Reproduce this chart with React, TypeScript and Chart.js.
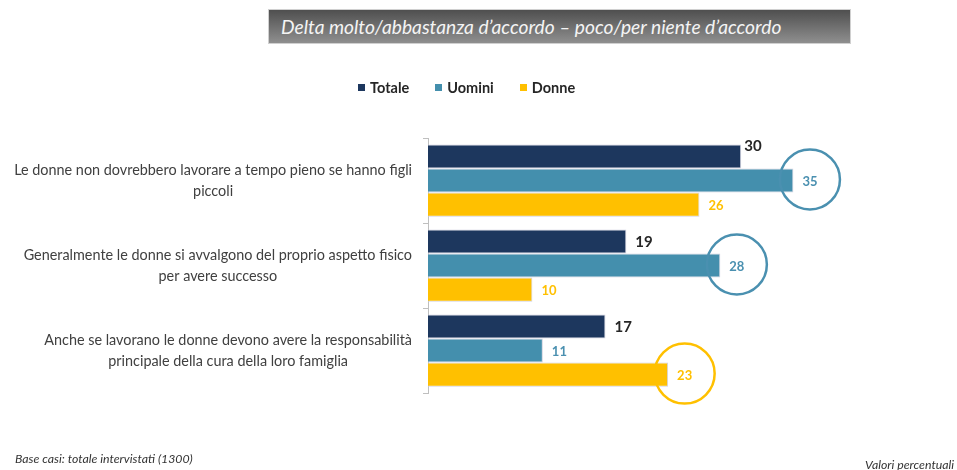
import React, { useEffect, useRef } from "react";
import { Chart, registerables } from "chart.js";

Chart.register(...registerables);

const TITLE = "Delta molto/abbastanza d’accordo – poco/per niente d’accordo";
const categories: string[][] = [
  ["Le donne non dovrebbero lavorare a tempo pieno se hanno figli", "piccoli"],
  ["Generalmente le donne si avvalgono del proprio aspetto fisico", "per avere successo"],
  ["Anche se lavorano le donne devono avere la responsabilità", "principale della cura della loro famiglia"],
];
const seriesNames = ["Totale", "Uomini", "Donne"];
const totale = [30, 19, 17];
const uomini = [35, 28, 11];
const donne = [26, 10, 23];
const circledUomini = [true, true, false];
const circledDonne = [false, false, true];
const circledTotale = [false, false, false];
const BASE_NOTE = "Base casi: totale intervistati (1300)";
const UNIT_NOTE = "Valori percentuali";

const barColors = ["#1d375e", "#448fad", "#ffc000"];
const labelColors = ["#262626", "#4a90b0", "#ffc000"];
const FONT = "Lato, 'Open Sans', sans-serif";

const valuePlugin = {
  id: "valueLabels",
  afterDatasetsDraw(chart: any) {
    const ctx = chart.ctx;
    const circled = [circledTotale, circledUomini, circledDonne];
    chart.data.datasets.forEach((ds: any, di: number) => {
      const meta = chart.getDatasetMeta(di);
      meta.data.forEach((el: any, i: number) => {
        const txt = String(ds.data[i]);
        ctx.save();
        ctx.font = di === 0 ? `bold 15px ${FONT}` : `bold 13px ${FONT}`;
        ctx.fillStyle = labelColors[di];
        ctx.textAlign = "left";
        ctx.textBaseline = "middle";
        let x = el.x + 9;
        let y = el.y + 1;
        // totale label lifted when circle of next series sits beside it
        if (di === 0 && circled[1][i] && chart.getDatasetMeta(1).data[i].x - el.x < 60) {
          x = el.x + 3;
          y = el.y - 10;
        }
        ctx.fillText(txt, x, y);
        if (circled[di][i]) {
          const w = ctx.measureText(txt).width;
          ctx.beginPath();
          ctx.strokeStyle = barColors[di] === "#ffc000" ? "#ffc000" : "#4a90b0";
          ctx.lineWidth = 2.5;
          ctx.arc(x + w / 2, el.y - 1, 30, 0, Math.PI * 2);
          ctx.stroke();
        }
        ctx.restore();
      });
    });
  },
};

const yLabelPlugin = {
  id: "yLabels",
  afterDraw(chart: any) {
    const ctx = chart.ctx;
    const ys = chart.scales.y;
    ctx.save();
    ctx.font = `14.4px ${FONT}`;
    ctx.fillStyle = "#404040";
    ctx.textAlign = "center";
    ctx.textBaseline = "middle";
    const right = 412;
    const lh = 21;
    categories.forEach((lines, i) => {
      const cy = ys.getPixelForValue(i);
      const maxW = Math.max(...lines.map((l) => ctx.measureText(l).width));
      const cx = right - maxW / 2;
      lines.forEach((l, li) => {
        ctx.fillText(l, cx, cy + (li - (lines.length - 1) / 2) * lh);
      });
    });
    ctx.restore();
  },
};

export default function App() {
  const ref = useRef<HTMLCanvasElement>(null);
  useEffect(() => {
    if (!ref.current) return;
    const chart = new Chart(ref.current, {
      type: "bar",
      data: {
        labels: categories.map((c) => c.join(" ")),
        datasets: [totale, uomini, donne].map((d, i) => ({
          label: seriesNames[i],
          data: d,
          backgroundColor: barColors[i],
          borderColor: "rgba(205,205,220,0.9)",
          borderWidth: 1,
          categoryPercentage: 0.85,
          barPercentage: 1.0,
        })),
      },
      options: {
        indexAxis: "y",
        animation: false,
        responsive: false,
        devicePixelRatio: 1,
        layout: { padding: { left: 420, top: 138, bottom: 77, right: 7 } },
        plugins: { legend: { display: false }, tooltip: { enabled: false }, title: { display: false } },
        scales: {
          x: { display: false, min: 0, max: 50 },
          y: {
            offset: true,
            afterFit: (s: any) => {
              s.width = 8;
            },
            grid: { drawOnChartArea: false, drawTicks: true, tickLength: 5, color: "#bfbfbf", offset: true },
            border: { display: true, color: "#bfbfbf", width: 1 },
            ticks: { display: false },
          },
        },
      },
      plugins: [valuePlugin, yLabelPlugin],
    } as any);
    return () => chart.destroy();
  }, []);

  return (
    <div style={{ position: "fixed", left: 0, top: 0, width: 957, height: 470, background: "#fff", overflow: "hidden", fontFamily: FONT }}>
      <canvas ref={ref} width={957} height={470} style={{ position: "absolute", left: 0, top: 0 }} />
      <div
        style={{
          position: "absolute",
          left: 268,
          top: 9,
          width: 583,
          height: 35,
          background: "linear-gradient(#4f4f4f, #8f8f8f)",
          border: "1px solid #d0d0d0",
          boxSizing: "border-box",
          color: "#f4f4f4",
          fontStyle: "italic",
          fontSize: 19.2,
          lineHeight: "33px",
          paddingLeft: 12,
          whiteSpace: "nowrap",
        }}
      >
        {TITLE}
      </div>
      <div style={{ position: "absolute", left: 358, top: 79, display: "flex", alignItems: "center", fontWeight: "bold", fontSize: 14.5, color: "#262626" }}>
        {seriesNames.map((n, i) => (
          <div key={n} style={{ display: "flex", alignItems: "center", marginRight: 26 }}>
            <span style={{ display: "inline-block", width: 7, height: 7, background: barColors[i], marginRight: 5 }} />
            <span>{n}</span>
          </div>
        ))}
      </div>
      <div style={{ position: "absolute", left: 15, top: 451, fontStyle: "italic", fontSize: 12.3, color: "#333", whiteSpace: "nowrap" }}>{BASE_NOTE}</div>
      <div style={{ position: "absolute", left: 865, top: 457, fontStyle: "italic", fontSize: 12.3, color: "#333", whiteSpace: "nowrap" }}>{UNIT_NOTE}</div>
    </div>
  );
}
